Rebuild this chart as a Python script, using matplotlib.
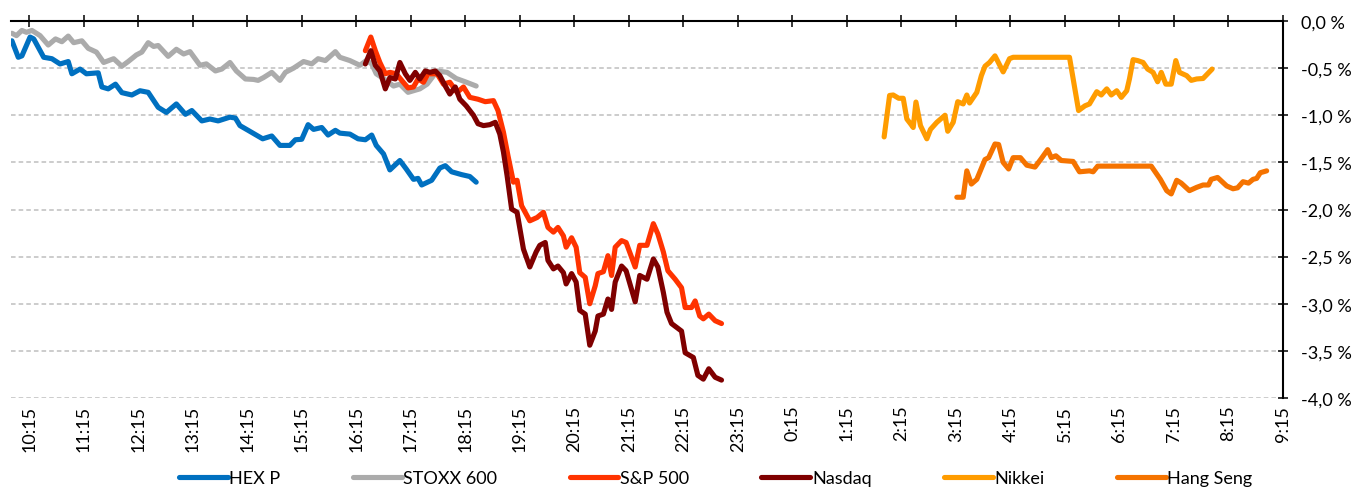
import numpy as np
import matplotlib
matplotlib.use("Agg")
from matplotlib import pyplot as plt
from matplotlib.ticker import FuncFormatter

# time = minutes after 10:15, value = change in %
hex_t = [-19, -12, -8, 1, 5, 16, 25, 34, 43, 47, 56, 63, 76, 80, 87, 95, 102, 113, 122, 131,
         142, 151, 162, 172, 179, 190, 199, 208, 221, 227, 232, 241, 257, 267, 276, 287, 293, 300,
         307, 313, 322, 329, 337, 342, 353, 362, 370, 377, 382, 390, 397, 408, 415, 423, 428, 432,
         443, 452, 458, 465, 476, 485, 492]
hex_v = [-0.21, -0.385, -0.37, -0.17, -0.19, -0.385, -0.40, -0.456, -0.43, -0.56, -0.51, -0.56,
         -0.55, -0.70, -0.72, -0.67, -0.76, -0.785, -0.74, -0.757, -0.916, -0.97, -0.88, -0.99,
         -0.95, -1.06, -1.04, -1.06, -1.02, -1.03, -1.11, -1.16, -1.25, -1.22, -1.32, -1.32, -1.26,
         -1.255, -1.10, -1.15, -1.13, -1.21, -1.16, -1.19, -1.20, -1.25, -1.26, -1.21, -1.32, -1.41,
         -1.58, -1.48, -1.57, -1.68, -1.67, -1.74, -1.69, -1.56, -1.535, -1.60, -1.63, -1.65, -1.71]

stoxx_t = [-19, -14, -8, -3, 3, 12, 21, 29, 36, 43, 49, 58, 65, 74, 82, 93, 102, 109, 118, 124,
           131, 137, 142, 153, 162, 170, 177, 188, 195, 205, 212, 221, 228, 238, 247, 252, 258, 267,
           276, 282, 291, 302, 311, 318, 326, 337, 342, 353, 364, 371, 377, 382, 393, 401, 408, 417,
           430, 438, 449, 460, 470, 480, 492]
stoxx_v = [-0.13, -0.155, -0.10, -0.12, -0.10, -0.155, -0.255, -0.19, -0.22, -0.16, -0.23, -0.21,
           -0.29, -0.33, -0.44, -0.40, -0.48, -0.43, -0.36, -0.33, -0.23, -0.27, -0.26, -0.375,
           -0.30, -0.35, -0.325, -0.47, -0.455, -0.53, -0.51, -0.44, -0.53, -0.615, -0.62, -0.63,
           -0.60, -0.545, -0.63, -0.545, -0.50, -0.43, -0.455, -0.40, -0.42, -0.325, -0.385, -0.42,
           -0.47, -0.42, -0.455, -0.56, -0.63, -0.69, -0.67, -0.757, -0.72, -0.67, -0.53, -0.545,
           -0.61, -0.645, -0.69]

sp_t = [370, 376, 381, 386, 392, 397, 404, 410, 417, 423, 428, 434, 439, 449, 456, 463, 471, 478,
        485, 494, 502, 511, 516, 522, 527, 533, 537, 542, 551, 559, 566, 571, 577, 582, 588, 591,
        597, 602, 606, 612, 617, 623, 626, 632, 637, 641, 645, 652, 657, 667, 672, 680, 687, 692,
        698, 703, 711, 718, 722, 729, 733, 738, 742, 748, 755, 762]
sp_v = [-0.315, -0.17, -0.315, -0.44, -0.56, -0.545, -0.56, -0.63, -0.71, -0.70, -0.615, -0.65,
        -0.56, -0.56, -0.67, -0.65, -0.757, -0.70, -0.81, -0.83, -0.856, -0.845, -0.95, -1.18,
        -1.43, -1.71, -1.69, -1.96, -2.12, -2.085, -2.03, -2.19, -2.24, -2.19, -2.28, -2.40, -2.30,
        -2.40, -2.67, -2.72, -3.00, -2.81, -2.68, -2.66, -2.49, -2.70, -2.40, -2.33, -2.35, -2.61,
        -2.38, -2.38, -2.15, -2.26, -2.45, -2.65, -2.74, -2.83, -3.04, -3.04, -2.97, -3.13, -3.16,
        -3.11, -3.18, -3.21]

nq_t = [370, 376, 381, 386, 392, 397, 403, 408, 414, 419, 425, 430, 436, 441, 447, 452, 458, 463,
        469, 474, 481, 489, 494, 500, 507, 513, 518, 522, 526, 531, 537, 544, 551, 558, 562, 568,
        571, 577, 582, 588, 591, 597, 602, 606, 612, 617, 623, 626, 632, 637, 641, 645, 652, 657,
        667, 672, 680, 687, 692, 698, 702, 707, 718, 722, 731, 736, 742, 748, 755, 762]
nq_v = [-0.456, -0.315, -0.47, -0.53, -0.72, -0.60, -0.615, -0.44, -0.56, -0.63, -0.545, -0.615,
        -0.53, -0.545, -0.53, -0.58, -0.69, -0.775, -0.70, -0.83, -0.90, -1.00, -1.09, -1.11,
        -1.10, -1.075, -1.20, -1.39, -1.64, -1.995, -2.03, -2.42, -2.61, -2.45, -2.38, -2.35,
        -2.54, -2.63, -2.60, -2.67, -2.79, -2.68, -2.77, -3.07, -3.11, -3.44, -3.29, -3.13, -3.11,
        -2.95, -3.06, -2.77, -2.60, -2.65, -2.98, -2.70, -2.74, -2.525, -2.61, -2.88, -3.09,
        -3.21, -3.29, -3.52, -3.57, -3.76, -3.80, -3.69, -3.78, -3.81]

nk_t = [941, 947, 951, 957, 962, 966, 970, 973, 976, 981, 988, 992, 999, 1008, 1011, 1017, 1022,
        1028, 1032, 1035, 1043, 1048, 1052, 1057, 1063, 1072, 1079, 1083, 1145, 1155, 1162, 1167,
        1175, 1180, 1186, 1191, 1197, 1202, 1208, 1211, 1215, 1220, 1226, 1231, 1237, 1242, 1246,
        1251, 1257, 1262, 1266, 1274, 1279, 1285, 1292, 1297, 1302]
nk_v = [-1.23, -0.79, -0.785, -0.82, -0.82, -1.04, -1.09, -1.13, -0.86, -1.11, -1.25, -1.15,
        -1.075, -1.00, -1.17, -1.075, -0.856, -0.88, -0.785, -0.87, -0.757, -0.58, -0.48, -0.44,
        -0.37, -0.54, -0.40, -0.385, -0.385, -0.95, -0.90, -0.88, -0.75, -0.785, -0.72, -0.785,
        -0.74, -0.81, -0.74, -0.615, -0.41, -0.42, -0.44, -0.51, -0.545, -0.645, -0.545, -0.67,
        -0.67, -0.42, -0.545, -0.58, -0.63, -0.615, -0.61, -0.56, -0.51]

hs_t = [1021, 1028, 1032, 1037, 1043, 1052, 1056, 1063, 1067, 1072, 1078, 1083, 1091, 1098, 1107,
        1114, 1121, 1125, 1130, 1136, 1149, 1156, 1167, 1171, 1176, 1235, 1245, 1252, 1257, 1263,
        1268, 1277, 1285, 1292, 1298, 1301, 1308, 1318, 1325, 1330, 1336, 1342, 1347, 1351, 1355,
        1362]
hs_v = [-1.87, -1.87, -1.59, -1.73, -1.68, -1.47, -1.45, -1.305, -1.31, -1.50, -1.57, -1.45,
        -1.45, -1.53, -1.55, -1.46, -1.365, -1.45, -1.43, -1.48, -1.49, -1.60, -1.59, -1.60, -1.54,
        -1.54, -1.68, -1.80, -1.835, -1.69, -1.72, -1.80, -1.765, -1.74, -1.74, -1.68, -1.66,
        -1.75, -1.78, -1.77, -1.705, -1.72, -1.68, -1.67, -1.61, -1.59]

hour_labels = ['10:15', '11:15', '12:15', '13:15', '14:15', '15:15', '16:15', '17:15', '18:15',
               '19:15', '20:15', '21:15', '22:15', '23:15', '0:15', '1:15', '2:15', '3:15', '4:15',
               '5:15', '6:15', '7:15', '8:15', '9:15']

plt.rcParams['font.family'] = ['Lato', 'DejaVu Sans']

W, H = 1353, 489
fig = plt.figure(figsize=(W / 100, H / 100), dpi=100)
ax = fig.add_axes([11 / W, 1 - 399 / H, (1283 - 11) / W, (399 - 22) / H])

series = [
    ('HEX P', hex_t, hex_v, '#0070C0'),
    ('STOXX 600', stoxx_t, stoxx_v, '#ABABAB'),
    ('S&P 500', sp_t, sp_v, '#FF3300'),
    ('Nasdaq', nq_t, nq_v, '#7F0000'),
    ('Nikkei', nk_t, nk_v, '#FF9C00'),
    ('Hang Seng', hs_t, hs_v, '#F57300'),
]
for name, t, v, c in series:
    ax.plot(t, v, color=c, lw=3.7, label=name,
            solid_joinstyle='round', solid_capstyle='round')

ax.set_xlim(-20, 1380)
ax.set_ylim(-4.0, 0.0)

ax.set_yticks(np.arange(-8, 1) * 0.5)
ax.yaxis.set_major_formatter(
    FuncFormatter(lambda v, p: ('%.1f %%' % (0.0 if abs(v) < 1e-9 else v)).replace('.', ',')))
ax.yaxis.tick_right()
ax.tick_params(axis='y', direction='inout', length=6.5, width=1.1, pad=10, labelsize=13,
               colors='black')
ax.yaxis.grid(True, linestyle=(0, (3, 2)), color='#BFBFBF', lw=1.1)
ax.set_axisbelow(True)

ax.set_xticks(np.arange(len(hour_labels)) * 60)
ax.set_xticklabels(hour_labels, rotation=90)
ax.tick_params(axis='x', top=True, bottom=False, labeltop=False, labelbottom=True,
               direction='inout', length=8.6, width=1.1, pad=0.5, labelsize=13)

for s in ['left', 'bottom']:
    ax.spines[s].set_visible(False)
for s in ['top', 'right']:
    ax.spines[s].set_linewidth(1.5)
    ax.spines[s].set_color('black')

fig.legend(loc='center', bbox_to_anchor=(0.529, 0.02), ncol=6, frameon=False,
           handlelength=2.7, handletextpad=0.1, columnspacing=4.0, fontsize=13)

fig.savefig('out.png', dpi=100)
